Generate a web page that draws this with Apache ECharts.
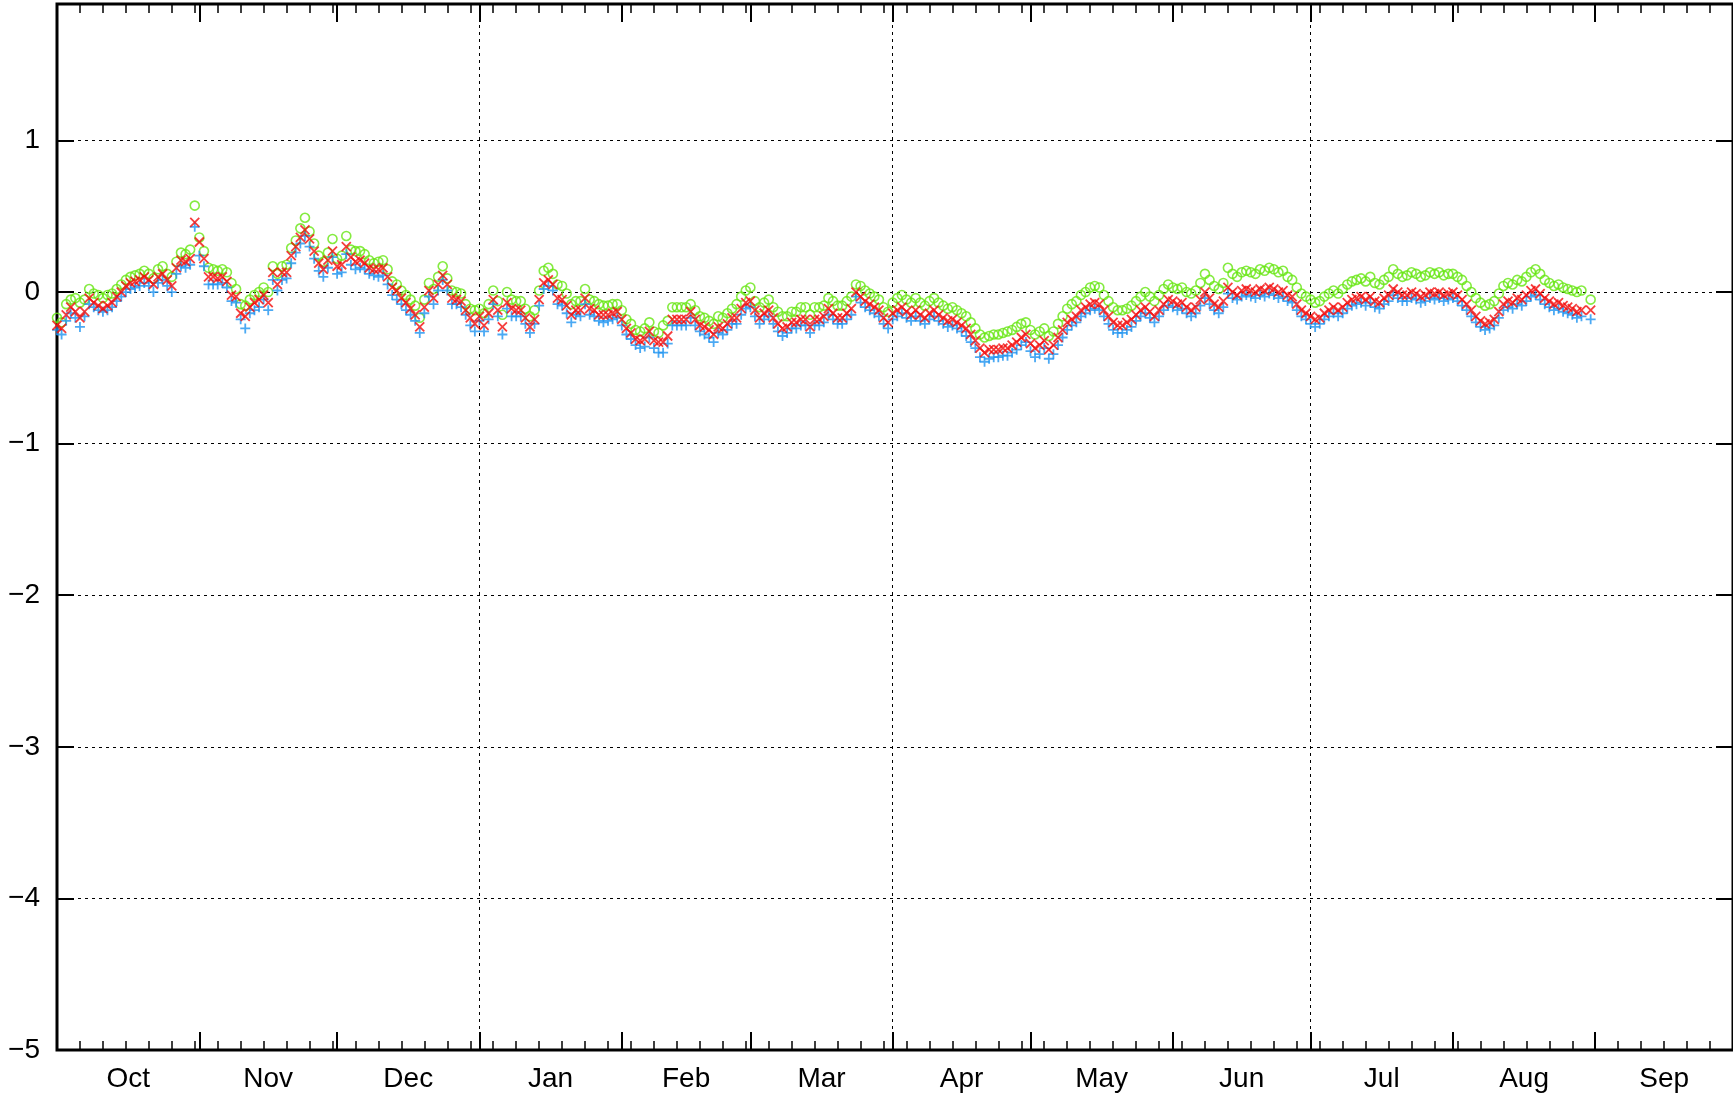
<!DOCTYPE html>
<html>
<head>
<meta charset="utf-8">
<title>Daily anomaly</title>
<script src="https://cdn.jsdelivr.net/npm/echarts@6/dist/echarts.min.js"></script>
<style>
  html, body { margin: 0; padding: 0; background: #ffffff; }
  #chart { width: 1733px; height: 1101px; }
</style>
</head>
<body>
<div id="chart"></div>
<script>
// Months of the season, starting 1 October; x is counted in days from that date.
const monthNames = ['Oct', 'Nov', 'Dec', 'Jan', 'Feb', 'Mar', 'Apr', 'May', 'Jun', 'Jul', 'Aug', 'Sep'];
const monthLengths = [31, 30, 31, 31, 28, 31, 30, 31, 30, 31, 31, 30];
const yTicks = [-5, -4, -3, -2, -1, 0, 1];

// Upper estimate (green circles), one value per day from 1 October.
const upperValues = [
  -0.17,-0.20,-0.08,-0.05,-0.04,-0.07,-0.05,0.02,-0.01,-0.02,
  -0.04,-0.02,-0.01,0.02,0.05,0.08,0.10,0.11,0.12,0.14,
  0.12,0.09,0.15,0.17,0.12,0.10,0.20,0.26,0.25,0.28,
  0.57,0.36,0.27,0.16,0.15,0.14,0.15,0.13,0.06,0.02,
  -0.08,-0.09,-0.05,-0.02,0.00,0.03,0.00,0.17,0.12,0.17,
  0.18,0.29,0.34,0.42,0.49,0.40,0.32,0.24,0.20,0.26,
  0.35,0.22,0.24,0.37,0.28,0.27,0.27,0.25,0.21,0.19,
  0.20,0.21,0.15,0.07,0.05,0.01,-0.02,-0.05,-0.09,-0.17,
  -0.05,0.06,0.02,0.10,0.17,0.09,0.01,0.00,-0.01,-0.08,
  -0.11,-0.12,-0.11,-0.14,-0.08,0.01,-0.06,-0.15,0.00,-0.05,
  -0.06,-0.06,-0.11,-0.16,-0.12,0.01,0.14,0.16,0.12,0.05,
  0.04,-0.01,-0.08,-0.06,-0.06,0.02,-0.05,-0.06,-0.08,-0.09,
  -0.09,-0.08,-0.08,-0.12,-0.18,-0.21,-0.25,-0.26,-0.24,-0.20,
  -0.26,-0.27,-0.22,-0.19,-0.10,-0.10,-0.10,-0.10,-0.08,-0.12,
  -0.16,-0.17,-0.19,-0.21,-0.16,-0.17,-0.14,-0.11,-0.08,-0.03,
  0.01,0.03,-0.06,-0.10,-0.07,-0.05,-0.10,-0.13,-0.16,-0.16,
  -0.13,-0.13,-0.10,-0.10,-0.15,-0.10,-0.10,-0.09,-0.04,-0.06,
  -0.09,-0.09,-0.06,-0.03,0.05,0.04,0.01,-0.01,-0.03,-0.05,
  -0.10,-0.13,-0.07,-0.04,-0.02,-0.05,-0.07,-0.04,-0.07,-0.09,
  -0.06,-0.04,-0.07,-0.09,-0.11,-0.10,-0.12,-0.14,-0.16,-0.20,
  -0.24,-0.28,-0.30,-0.29,-0.28,-0.28,-0.27,-0.26,-0.25,-0.23,
  -0.21,-0.20,-0.25,-0.28,-0.26,-0.24,-0.29,-0.26,-0.21,-0.16,
  -0.11,-0.08,-0.06,-0.02,0.00,0.03,0.04,0.03,-0.02,-0.06,
  -0.10,-0.12,-0.12,-0.11,-0.09,-0.06,-0.03,0.00,-0.03,-0.06,
  -0.02,0.02,0.05,0.03,0.02,0.03,0.00,-0.01,0.01,0.06,
  0.12,0.08,0.04,0.02,0.06,0.16,0.12,0.10,0.13,0.14,
  0.13,0.12,0.15,0.14,0.16,0.15,0.13,0.14,0.10,0.08,
  0.03,-0.01,-0.03,-0.05,-0.07,-0.06,-0.03,-0.01,0.01,-0.01,
  0.02,0.05,0.07,0.08,0.09,0.07,0.10,0.06,0.05,0.08,
  0.10,0.15,0.12,0.10,0.11,0.13,0.12,0.10,0.11,0.13,
  0.12,0.13,0.11,0.12,0.12,0.10,0.08,0.04,0.00,-0.04,
  -0.07,-0.09,-0.08,-0.06,-0.01,0.04,0.06,0.05,0.08,0.07,
  0.10,0.13,0.15,0.12,0.08,0.06,0.04,0.05,0.03,0.02,
  0.01,0.00,0.01,null,-0.05
];

// Central estimate (red crosses).
const centralValues = [
  -0.22,-0.24,-0.15,-0.10,-0.13,-0.17,-0.13,-0.04,-0.07,-0.09,
  -0.11,-0.09,-0.07,-0.03,0.00,0.04,0.06,0.07,0.08,0.10,
  0.08,0.05,0.10,0.12,0.08,0.04,0.16,0.21,0.20,0.22,
  0.46,0.33,0.22,0.10,0.10,0.09,0.10,0.07,-0.02,-0.03,
  -0.14,-0.16,-0.10,-0.07,-0.05,-0.02,-0.07,0.13,0.05,0.13,
  0.13,0.24,0.30,0.36,0.41,0.35,0.27,0.19,0.15,0.21,
  0.27,0.17,0.18,0.30,0.23,0.20,0.21,0.19,0.16,0.15,
  0.15,0.16,0.10,0.03,0.01,-0.04,-0.07,-0.11,-0.15,-0.23,
  -0.10,0.01,-0.04,0.05,0.11,0.05,-0.04,-0.05,-0.06,-0.12,
  -0.17,-0.21,-0.16,-0.22,-0.14,-0.05,-0.12,-0.23,-0.07,-0.11,
  -0.12,-0.12,-0.17,-0.23,-0.18,-0.05,0.06,0.08,0.05,-0.04,
  -0.05,-0.09,-0.15,-0.12,-0.12,-0.04,-0.11,-0.12,-0.15,-0.15,
  -0.15,-0.14,-0.13,-0.18,-0.24,-0.27,-0.31,-0.32,-0.31,-0.26,
  -0.32,-0.33,-0.33,-0.29,-0.18,-0.18,-0.18,-0.18,-0.13,-0.18,
  -0.22,-0.23,-0.25,-0.28,-0.23,-0.24,-0.21,-0.17,-0.17,-0.11,
  -0.07,-0.06,-0.12,-0.17,-0.14,-0.12,-0.17,-0.21,-0.24,-0.23,
  -0.20,-0.20,-0.18,-0.18,-0.23,-0.18,-0.18,-0.16,-0.11,-0.14,
  -0.17,-0.17,-0.14,-0.11,0.00,-0.03,-0.06,-0.08,-0.10,-0.12,
  -0.17,-0.20,-0.14,-0.12,-0.10,-0.13,-0.15,-0.12,-0.15,-0.17,
  -0.14,-0.12,-0.15,-0.17,-0.19,-0.18,-0.20,-0.22,-0.24,-0.28,
  -0.32,-0.37,-0.40,-0.38,-0.38,-0.38,-0.37,-0.37,-0.35,-0.33,
  -0.30,-0.28,-0.34,-0.37,-0.35,-0.32,-0.38,-0.35,-0.30,-0.25,
  -0.20,-0.18,-0.16,-0.12,-0.10,-0.08,-0.07,-0.08,-0.12,-0.16,
  -0.20,-0.22,-0.22,-0.20,-0.18,-0.15,-0.12,-0.10,-0.13,-0.16,
  -0.12,-0.08,-0.05,-0.06,-0.08,-0.07,-0.10,-0.12,-0.10,-0.05,
  0.00,-0.04,-0.08,-0.10,-0.06,0.03,0.00,-0.02,0.01,0.02,
  0.01,0.00,0.02,0.01,0.03,0.02,0.00,0.01,-0.02,-0.03,
  -0.08,-0.12,-0.14,-0.16,-0.18,-0.17,-0.14,-0.12,-0.10,-0.12,
  -0.10,-0.07,-0.05,-0.04,-0.03,-0.05,-0.03,-0.06,-0.07,-0.04,
  -0.02,0.02,0.00,-0.02,-0.02,0.00,-0.01,-0.03,-0.02,0.00,
  -0.01,0.00,-0.02,-0.01,0.00,-0.02,-0.05,-0.08,-0.12,-0.16,
  -0.19,-0.21,-0.20,-0.18,-0.13,-0.08,-0.06,-0.07,-0.04,-0.05,
  -0.02,0.01,0.02,-0.01,-0.04,-0.06,-0.08,-0.07,-0.09,-0.10,
  -0.11,-0.13,-0.12,null,-0.12
];

// Lower estimate (blue pluses).
const lowerValues = [
  -0.25,-0.28,-0.19,-0.14,-0.17,-0.23,-0.16,-0.08,-0.10,-0.12,
  -0.13,-0.12,-0.10,-0.06,-0.03,0.00,0.02,0.03,0.04,0.06,
  0.04,0.00,0.06,0.08,0.04,0.00,0.12,0.17,0.16,0.18,
  0.43,0.24,0.17,0.05,0.05,0.05,0.06,0.03,-0.06,-0.07,
  -0.18,-0.24,-0.14,-0.12,-0.10,-0.05,-0.12,0.08,0.01,0.08,
  0.09,0.19,0.26,0.32,0.37,0.30,0.22,0.14,0.10,0.16,
  0.23,0.12,0.13,0.25,0.18,0.15,0.16,0.15,0.12,0.11,
  0.10,0.11,0.05,-0.02,-0.05,-0.08,-0.12,-0.15,-0.19,-0.27,
  -0.14,-0.03,-0.08,0.01,0.08,0.01,-0.08,-0.08,-0.10,-0.15,
  -0.22,-0.26,-0.19,-0.26,-0.18,-0.08,-0.16,-0.28,-0.11,-0.16,
  -0.16,-0.16,-0.21,-0.27,-0.21,-0.09,0.02,0.04,0.01,-0.08,
  -0.09,-0.14,-0.20,-0.15,-0.16,-0.08,-0.15,-0.16,-0.19,-0.20,
  -0.19,-0.18,-0.17,-0.22,-0.28,-0.31,-0.35,-0.37,-0.36,-0.30,
  -0.37,-0.40,-0.40,-0.34,-0.22,-0.22,-0.22,-0.22,-0.17,-0.22,
  -0.26,-0.28,-0.30,-0.33,-0.27,-0.28,-0.25,-0.21,-0.21,-0.15,
  -0.11,-0.10,-0.16,-0.21,-0.18,-0.16,-0.21,-0.26,-0.29,-0.27,
  -0.24,-0.24,-0.22,-0.22,-0.27,-0.22,-0.22,-0.20,-0.15,-0.18,
  -0.21,-0.21,-0.18,-0.15,-0.03,-0.07,-0.10,-0.12,-0.14,-0.16,
  -0.21,-0.24,-0.18,-0.16,-0.14,-0.17,-0.19,-0.16,-0.19,-0.21,
  -0.18,-0.16,-0.19,-0.21,-0.23,-0.22,-0.24,-0.26,-0.29,-0.33,
  -0.37,-0.43,-0.46,-0.44,-0.43,-0.43,-0.42,-0.42,-0.40,-0.38,
  -0.35,-0.33,-0.39,-0.43,-0.41,-0.37,-0.44,-0.41,-0.35,-0.30,
  -0.25,-0.22,-0.20,-0.16,-0.14,-0.12,-0.11,-0.12,-0.16,-0.21,
  -0.25,-0.27,-0.27,-0.25,-0.23,-0.19,-0.16,-0.14,-0.17,-0.20,
  -0.16,-0.12,-0.09,-0.10,-0.12,-0.11,-0.14,-0.16,-0.14,-0.09,
  -0.04,-0.08,-0.12,-0.14,-0.10,-0.01,-0.04,-0.05,-0.03,-0.02,
  -0.03,-0.04,-0.02,-0.03,-0.01,-0.02,-0.04,-0.03,-0.06,-0.07,
  -0.12,-0.16,-0.18,-0.21,-0.23,-0.21,-0.18,-0.16,-0.14,-0.16,
  -0.14,-0.11,-0.09,-0.08,-0.07,-0.09,-0.07,-0.10,-0.11,-0.08,
  -0.06,-0.02,-0.04,-0.06,-0.06,-0.04,-0.05,-0.07,-0.06,-0.04,
  -0.05,-0.04,-0.06,-0.05,-0.04,-0.06,-0.09,-0.12,-0.16,-0.20,
  -0.23,-0.25,-0.24,-0.22,-0.17,-0.12,-0.10,-0.11,-0.08,-0.09,
  -0.06,-0.03,-0.02,-0.05,-0.08,-0.10,-0.12,-0.11,-0.13,-0.14,
  -0.15,-0.17,-0.16,null,-0.18
];

// Derived tick positions (days from 1 October).
const monthStarts = [0];
monthLengths.forEach((len, i) => monthStarts.push(monthStarts[i] + len));
const daysInSeason = monthStarts[monthStarts.length - 1];
const monthMids = monthLengths.map((len, i) => monthStarts[i] + len / 2);
const quarterStarts = monthStarts.filter((d, i) => i % 3 === 0);

function toPoints(values) {
  const pts = [];
  values.forEach((v, i) => { if (v !== null) pts.push([i, v]); });
  return pts;
}

const FONT = 'Liberation Sans, Arial, Helvetica, sans-serif';
const BLACK = '#000000';

function baseX(extra) {
  return Object.assign({
    type: 'value',
    min: 0,
    max: daysInSeason,
    axisLine: { show: false, onZero: false },
    axisLabel: { show: false },
    splitLine: { show: false }
  }, extra);
}

const chart = echarts.init(document.getElementById('chart'), null, { renderer: 'canvas' });

chart.setOption({
  animation: false,
  backgroundColor: '#ffffff',
  grid: {
    left: 57,
    top: 4,
    width: 1676,
    height: 1046,
    show: true,
    borderColor: BLACK,
    borderWidth: 3,
    backgroundColor: 'rgba(0,0,0,0)',
    containLabel: false
  },
  xAxis: [
    // data axis with 5-day minor ticks along the bottom
    baseX({
      position: 'bottom',
      interval: 5,
      axisTick: { show: true, inside: true, length: 9, lineStyle: { color: BLACK, width: 1.5 } }
    }),
    // month boundaries and month names
    baseX({
      position: 'bottom',
      axisTick: { show: true, inside: true, length: 18, customValues: monthStarts, lineStyle: { color: BLACK, width: 2 } },
      axisLabel: {
        show: true,
        customValues: monthMids,
        formatter: v => monthNames[monthMids.indexOf(v)] || '',
        margin: 15,
        color: BLACK,
        fontFamily: FONT,
        fontSize: 28
      }
    }),
    // quarterly vertical grid
    baseX({
      position: 'bottom',
      axisTick: { show: false, customValues: quarterStarts },
      splitLine: { show: true, lineStyle: { color: BLACK, width: 1, type: [3, 4] } }
    }),
    // mirrored ticks along the top
    baseX({
      position: 'top',
      interval: 5,
      axisTick: { show: true, inside: true, length: 9, lineStyle: { color: BLACK, width: 1.5 } }
    }),
    baseX({
      position: 'top',
      axisTick: { show: true, inside: true, length: 18, customValues: monthStarts, lineStyle: { color: BLACK, width: 2 } }
    })
  ],
  yAxis: [
    {
      type: 'value',
      position: 'left',
      min: -5,
      max: 1.9,
      axisLine: { show: false, onZero: false },
      axisTick: { show: true, inside: true, length: 17, customValues: yTicks, lineStyle: { color: BLACK, width: 2 } },
      axisLabel: {
        show: true,
        customValues: yTicks,
        formatter: v => String(v).replace('-', '\u2212'),
        margin: 17,
        color: BLACK,
        fontFamily: FONT,
        fontSize: 28
      },
      splitLine: { show: true, lineStyle: { color: BLACK, width: 1, type: [3, 4] } }
    },
    {
      type: 'value',
      position: 'right',
      min: -5,
      max: 1.9,
      axisLine: { show: false, onZero: false },
      axisTick: { show: true, inside: true, length: 17, customValues: yTicks, lineStyle: { color: BLACK, width: 2 } },
      axisLabel: { show: false },
      splitLine: { show: false }
    }
  ],
  series: [
    {
      name: 'upper',
      type: 'scatter',
      xAxisIndex: 0,
      yAxisIndex: 0,
      symbol: 'circle',
      symbolSize: 9,
      silent: true,
      emphasis: { disabled: true },
      itemStyle: { color: 'rgba(0,0,0,0)', borderColor: '#66e612', borderWidth: 1.6 },
      data: toPoints(upperValues),
      z: 3
    },
    {
      name: 'lower',
      type: 'scatter',
      xAxisIndex: 0,
      yAxisIndex: 0,
      symbol: 'path://M5,0L5,10M0,5L10,5',
      symbolSize: 10,
      silent: true,
      emphasis: { disabled: true },
      itemStyle: { color: 'rgba(0,0,0,0)', borderColor: '#1e94f0', borderWidth: 1.8 },
      data: toPoints(lowerValues),
      z: 4
    },
    {
      name: 'central',
      type: 'scatter',
      xAxisIndex: 0,
      yAxisIndex: 0,
      symbol: 'path://M0,0L10,10M10,0L0,10',
      symbolSize: 9,
      silent: true,
      emphasis: { disabled: true },
      itemStyle: { color: 'rgba(0,0,0,0)', borderColor: '#f20c0c', borderWidth: 1.8 },
      data: toPoints(centralValues),
      z: 5
    }
  ]
});
</script>
</body>
</html>
